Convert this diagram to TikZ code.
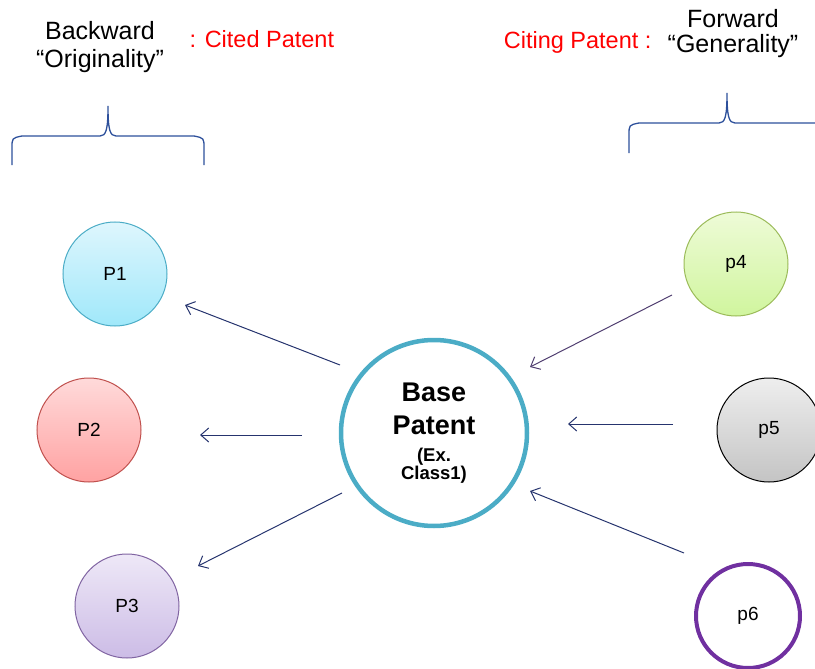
\documentclass[tikz,border=0pt]{standalone}
\usepackage{fontspec}
\setmainfont{Liberation Sans}
\usetikzlibrary{arrows.meta}

\definecolor{navy}{RGB}{38,52,110}
\definecolor{plum}{RGB}{80,62,112}
\definecolor{braceblue}{RGB}{45,80,155}
\definecolor{teal}{RGB}{75,172,198}
\definecolor{rose}{RGB}{192,80,77}
\definecolor{lilac}{RGB}{128,100,162}
\definecolor{leaf}{RGB}{155,187,89}
\definecolor{violet}{RGB}{112,48,160}

\tikzset{
  patent/.style={draw, circle, minimum size=104pt, inner sep=0pt, line width=1pt,
    font=\fontsize{19}{22}\selectfont},
  cite/.style={draw=navy, line width=1pt, -{Straight Barb[length=8pt,width=14pt]}},
  bracket/.style={draw=braceblue, line width=1.3pt},
  head/.style={font=\fontsize{25}{28}\selectfont, align=center},
  tag/.style={font=\fontsize{23.5}{27}\selectfont, text=red}
}

\begin{document}
\begin{tikzpicture}[x=1pt, y=-1pt]
  \useasboundingbox (0,0) rectangle (815,669);

  % Headings
  \node[head] (back) at (100,47.5) {Backward\\``Originality''};
  \node[tag, anchor=base west] (cited) at (186,48) {: Cited Patent};
  \node[head, font=\fontsize{25}{25}\selectfont] (fwd) at (733,34) {Forward\\``Generality''};
  \node[tag, anchor=base east] (citing) at (655,49) {Citing Patent :};

  % Braces
  \draw[bracket] (12,165) -- (12,148) .. controls (12,138) .. (22,136) -- (100,136)
    .. controls (106,136) and (108,130) .. (108,106)
    .. controls (108,130) and (110,136) .. (116,136) -- (194,136)
    .. controls (204,138) .. (204,148) -- (204,165);
  \draw[bracket] (629,153) -- (629,135) .. controls (629,125) .. (639,123) -- (719,123)
    .. controls (725,123) and (727,117) .. (727,93)
    .. controls (727,117) and (729,123) .. (735,123) -- (815,123);

  % Cited patents
  \node[patent, draw=teal, top color={rgb,255:red,222;green,246;blue,253}, bottom color={rgb,255:red,160;green,232;blue,250}] (P1) at (115,274) {P1};
  \node[patent, draw=rose, top color={rgb,255:red,255;green,218;blue,218}, bottom color={rgb,255:red,255;green,162;blue,162}] (P2) at (89,430) {P2};
  \node[patent, draw=lilac, top color={rgb,255:red,238;green,232;blue,247}, bottom color={rgb,255:red,204;green,188;blue,230}] (P3) at (127,606) {P3};

  % Base patent
  \node[draw=teal, circle, line width=4.5pt, minimum size=186pt, inner sep=0pt, align=center,
    font=\fontsize{27}{33}\selectfont\bfseries] (base) at (434,433)
    {Base\\Patent\\[-6pt]{\fontsize{18.5}{18}\selectfont (Ex.}\\[-15pt]{\fontsize{18.5}{18}\selectfont Class1)}};

  % Citing patents
  \node[patent, draw=leaf, top color={rgb,255:red,238;green,251;blue,215}, bottom color={rgb,255:red,208;green,245;blue,158}] (p4) at (736,264) {p4};
  \node[patent, draw=black, top color={rgb,255:red,238;green,238;blue,238}, bottom color={rgb,255:red,196;green,196;blue,196}] (p5) at (769,430) {p5};
  \node[patent, draw=violet, fill=white, line width=4pt] (p6) at (748,616) {p6};

  % Arrow ends
  \coordinate (b1) at (340,365); \coordinate (t1) at (185,305);
  \coordinate (b2) at (302,435); \coordinate (t2) at (200,435);
  \coordinate (b3) at (342,493); \coordinate (t3) at (198,566);
  \coordinate (f4) at (672,295); \coordinate (h4) at (530,367);
  \coordinate (f5) at (673,424); \coordinate (h5) at (568,424);
  \coordinate (f6) at (684,553); \coordinate (h6) at (530,491);

  % Arrows
  \draw[cite] (b1) -- (t1);
  \draw[cite] (b2) -- (t2);
  \draw[cite] (b3) -- (t3);
  \draw[cite, draw=plum] (f4) -- (h4);
  \draw[cite] (f5) -- (h5);
  \draw[cite] (f6) -- (h6);
\end{tikzpicture}
\end{document}
